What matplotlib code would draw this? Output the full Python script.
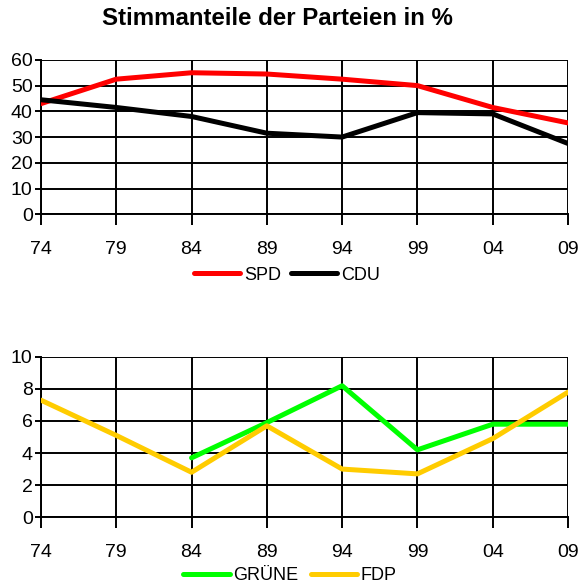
import matplotlib.pyplot as plt
import numpy as np

plt.rcParams['font.family'] = ['Liberation Sans', 'DejaVu Sans']
plt.rcParams['lines.solid_capstyle'] = 'round'

# --- Werte ---
jahre = ["74", "79", "84", "89", "94", "99", "04", "09"]
spd = [43, 52.5, 55, 54.5, 52.5, 50, 41.5, 35.5]
cdu = [44.5, 41.5, 38, 31.5, 30, 39.5, 39, 27.5]
gruene = [np.nan, np.nan, 3.7, 5.9, 8.2, 4.2, 5.8, 5.8]
fdp = [7.3, 5.1, 2.8, 5.7, 3.0, 2.7, 4.9, 7.8]

x = np.arange(len(jahre))

fig = plt.figure(figsize=(5.88, 5.87), dpi=100)
ax1 = fig.add_axes([0.0697, 0.635, 0.8963, 0.263])
ax2 = fig.add_axes([0.0697, 0.119, 0.8963, 0.273])


def style(ax, ymax, step):
    ax.set_xlim(0, len(jahre) - 1)
    ax.set_ylim(0, ymax)
    ax.set_xticks(x)
    ax.set_xticklabels(jahre, fontsize=14)
    ax.set_yticks(np.arange(0, ymax + 1, step))
    ax.tick_params(axis='y', labelsize=14, length=4, width=1.4, pad=2)
    ax.tick_params(axis='x', length=8, width=1.4, pad=11.5)
    ax.grid(True, color='black', linewidth=1.4, zorder=0)
    for s in ax.spines.values():
        s.set_linewidth(1.4)
    ax.spines['top'].set_visible(False)
    ax.spines['right'].set_visible(False)


def legende(ax, xc, yc, spacing):
    ax.legend(loc='center', bbox_to_anchor=(xc / 588, 1 - yc / 587),
              bbox_transform=fig.transFigure, ncol=2, frameon=False,
              fontsize=13, handlelength=2.55, columnspacing=spacing,
              handletextpad=0.2, borderaxespad=0, borderpad=0)


ax1.plot(x, spd, color='#ff0000', linewidth=3.6, label='SPD', zorder=3)
ax1.plot(x, cdu, color='black', linewidth=3.6, label='CDU', zorder=3)
style(ax1, 60, 10)
fig.text(277 / 588, 1 - 25 / 587, "Stimmanteile der Parteien in %", fontsize=17.3,
         fontweight='bold', ha='center', va='baseline')
legende(ax1, 287, 275, 0.55)

ax2.plot(x, gruene, color='#00ff00', linewidth=3.6, label='GRÜNE', zorder=3)
ax2.plot(x, fdp, color='#ffcc00', linewidth=3.6, label='FDP', zorder=3)
style(ax2, 10, 2)
legende(ax2, 290, 576, 0.7)

plt.savefig("out.png", dpi=100)
